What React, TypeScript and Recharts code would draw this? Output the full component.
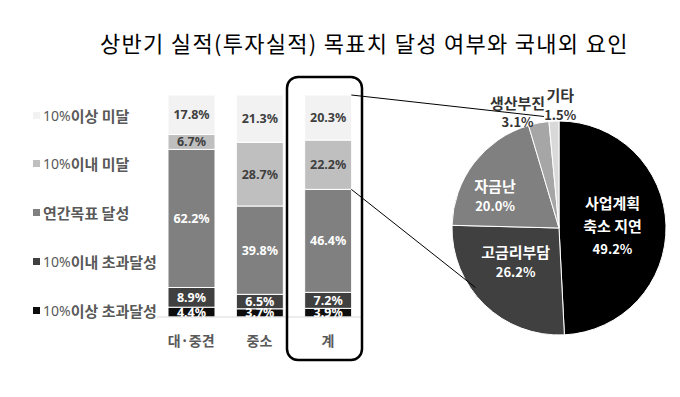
import { BarChart, Bar, XAxis, YAxis, LabelList, PieChart, Pie, Cell } from "recharts";

const categories = ["대·중견", "중소", "계"];
const seriesNames = ["10%이상 초과달성", "10%이내 초과달성", "연간목표 달성", "10%이내 미달", "10%이상 미달"];
const over10Exceed = [4.4, 3.7, 3.9];
const within10Exceed = [8.9, 6.5, 7.2];
const annualGoal = [62.2, 39.8, 46.4];
const within10Short = [6.7, 28.7, 22.2];
const over10Short = [17.8, 21.3, 20.3];

const factorNames = ["사업계획 축소 지연", "고금리부담", "자금난", "생산부진", "기타"];
const factorLines = [["사업계획", "축소 지연"], ["고금리부담"], ["자금난"], ["생산부진"], ["기타"]];
const factorValues = [49.2, 26.2, 20.0, 3.1, 1.5];

const BAR_COLORS = ["#0d0d0d", "#404040", "#808080", "#bfbfbf", "#f2f2f2"];
const BAR_LABEL_COLORS = ["#ffffff", "#ffffff", "#ffffff", "#404040", "#404040"];
const PIE_COLORS = ["#000000", "#404040", "#808080", "#a6a6a6", "#d9d9d9"];
const FONT = "'Noto Sans CJK KR', 'Noto Sans', sans-serif";

const seriesKeys = ["s0", "s1", "s2", "s3", "s4"];
const seriesValues = [over10Exceed, within10Exceed, annualGoal, within10Short, over10Short];

const barData = categories.map((name, i) => {
  const row: Record<string, string | number> = { name };
  seriesKeys.forEach((k, s) => (row[k] = seriesValues[s][i]));
  return row;
});

const pieData = factorNames.map((name, i) => ({ name, value: factorValues[i] }));

// layout
const BAR_W = 400;
const H = 397;
const PLOT_LEFT = 157;
const PLOT_RIGHT = 362;
const PLOT_TOP = 95;
const PLOT_BOTTOM = 317;
const X_AXIS_H = 30;
const BAR_SIZE = 47;
const PIE_LEFT = 380;
const PIE_CX = 174;
const PIE_CY = 223;
const PIE_R = 107;

// per-slice label placement: radius factor and nudges
const PIE_LABEL_POS = [
  { r: 0.5, dx: 0, dy: -2, lh: 23, color: "#fff" },
  { r: 0.5, dx: -6, dy: -5, lh: 20, color: "#fff" },
  { r: 0.6, dx: -13, dy: 6, lh: 20, color: "#fff" },
  { r: 1.15, dx: -18, dy: 4, lh: 19, color: "#333" },
  { r: 1.15, dx: 7, dy: -1, lh: 20, color: "#333" },
];

const RAD = Math.PI / 180;

function renderPieLabel(props: any) {
  const { cx, cy, midAngle, outerRadius, index } = props;
  const pos = PIE_LABEL_POS[index];
  const r = outerRadius * pos.r;
  const x = cx + r * Math.cos(-midAngle * RAD) + pos.dx;
  const y = cy + r * Math.sin(-midAngle * RAD) + pos.dy;
  const lines = [...factorLines[index], `${factorValues[index].toFixed(1)}%`];
  const top = y - ((lines.length - 1) * pos.lh) / 2;
  return (
    <text x={x} y={top} textAnchor="middle" dominantBaseline="central" fill={pos.color} fontFamily={FONT} fontWeight="bold">
      {lines.map((t, i) => (
        <tspan key={i} x={x} y={top + i * pos.lh} fontSize={i === lines.length - 1 ? 13 : 15}>
          {t}
        </tspan>
      ))}
    </text>
  );
}

function CategoryTick(props: any) {
  const { x, y, payload } = props;
  return (
    <text x={x} y={y + 15} textAnchor="middle" dominantBaseline="central" fill="#595959" fontSize={14} fontWeight="bold" fontFamily={FONT}>
      {payload.value}
    </text>
  );
}

function Legend5() {
  const items = seriesNames.map((name, i) => ({ name, color: BAR_COLORS[i] })).reverse();
  return (
    <>
      {items.map((it, i) => {
        const m = it.name.match(/^(10%)(.*)$/);
        return (
          <div
            key={it.name}
            style={{
              position: "absolute",
              left: 33,
              top: 115 + i * 48.75 - 10,
              height: 20,
              display: "flex",
              alignItems: "center",
              whiteSpace: "nowrap",
              fontFamily: FONT,
              color: "#595959",
            }}
          >
            <span style={{ width: 7, height: 7, background: it.color, marginRight: 3, display: "inline-block" }} />
            {m ? (
              <>
                <span style={{ fontSize: 14, fontFamily: "'Noto Sans', sans-serif" }}>{m[1]}</span>
                <span style={{ fontSize: 15, fontWeight: "bold" }}>{m[2]}</span>
              </>
            ) : (
              <span style={{ fontSize: 15, fontWeight: "bold" }}>{it.name}</span>
            )}
          </div>
        );
      })}
    </>
  );
}

export default function App() {
  const band = (PLOT_RIGHT - PLOT_LEFT) / categories.length;
  const totalIdx = categories.length - 1;
  const barRight = PLOT_LEFT + band * totalIdx + (band + BAR_SIZE) / 2;
  const yOf = (v: number) => PLOT_BOTTOM - (v / 100) * (PLOT_BOTTOM - PLOT_TOP);
  const cumGoal = over10Exceed[totalIdx] + within10Exceed[totalIdx] + annualGoal[totalIdx];
  const pcx = PIE_LEFT + PIE_CX;
  // top connector hits the boundary between 생산부진 and 기타
  const a1 = 90 - (1 - factorValues[4] / 100) * 360;
  const p1 = { x: pcx + PIE_R * Math.cos(a1 * RAD), y: PIE_CY - PIE_R * Math.sin(a1 * RAD) };
  const a2 = -140.5;
  const p2 = { x: pcx + PIE_R * 0.95 * Math.cos(a2 * RAD), y: PIE_CY - PIE_R * 0.95 * Math.sin(a2 * RAD) };

  return (
    <div style={{ position: "absolute", left: 0, top: 0, width: 680, height: H, background: "#fff", overflow: "hidden" }}>
      <div
        style={{
          position: "absolute",
          left: 100,
          top: 29,
          fontSize: 22,
          letterSpacing: 1.3,
          lineHeight: "26px",
          whiteSpace: "nowrap",
          fontFamily: FONT,
          color: "#000",
        }}
      >
        상반기 실적(투자실적) 목표치 달성 여부와 국내외 요인
      </div>

      <Legend5 />

      <div style={{ position: "absolute", left: 0, top: 0 }}>
        <BarChart
          width={BAR_W}
          height={H}
          data={barData}
          margin={{ top: PLOT_TOP, right: BAR_W - PLOT_RIGHT, bottom: H - PLOT_BOTTOM - X_AXIS_H, left: PLOT_LEFT }}
        >
          <XAxis dataKey="name" height={X_AXIS_H} axisLine={{ stroke: "#d9d9d9" }} tickLine={false} tick={<CategoryTick />} interval={0} />
          <YAxis hide domain={[0, 100]} />
          {seriesKeys.map((k, s) => (
            <Bar key={k} dataKey={k} name={seriesNames[s]} stackId="a" fill={BAR_COLORS[s]} barSize={BAR_SIZE} stroke="#fff" strokeWidth={1} isAnimationActive={false}>
              <LabelList
                dataKey={k}
                position="center"
                formatter={(v: any) => `${Number(v).toFixed(1)}%`}
                fill={BAR_LABEL_COLORS[s]}
                fontSize={12.5}
                fontWeight="bold"
                fontFamily="'Noto Sans', sans-serif"
              />
            </Bar>
          ))}
        </BarChart>
      </div>

      <div style={{ position: "absolute", left: PIE_LEFT, top: 0 }}>
        <PieChart width={680 - PIE_LEFT} height={H}>
          <Pie
            data={pieData}
            dataKey="value"
            nameKey="name"
            cx={PIE_CX}
            cy={PIE_CY}
            outerRadius={PIE_R}
            startAngle={90}
            endAngle={-270}
            stroke="#fff"
            strokeWidth={1}
            label={renderPieLabel}
            labelLine={false}
            isAnimationActive={false}
          >
            {pieData.map((_, i) => (
              <Cell key={`cell-${i}`} fill={PIE_COLORS[i]} />
            ))}
          </Pie>
        </PieChart>
      </div>

      <svg width={680} height={H} style={{ position: "absolute", left: 0, top: 0, pointerEvents: "none" }}>
        <rect x={287} y={77} width={75} height={283} rx={11} ry={11} fill="none" stroke="#000" strokeWidth={2.5} />
        <line x1={barRight} y1={yOf(100)} x2={p1.x} y2={p1.y} stroke="#000" strokeWidth={1} />
        <line x1={barRight} y1={yOf(cumGoal)} x2={p2.x} y2={p2.y} stroke="#000" strokeWidth={1} />
      </svg>
    </div>
  );
}
